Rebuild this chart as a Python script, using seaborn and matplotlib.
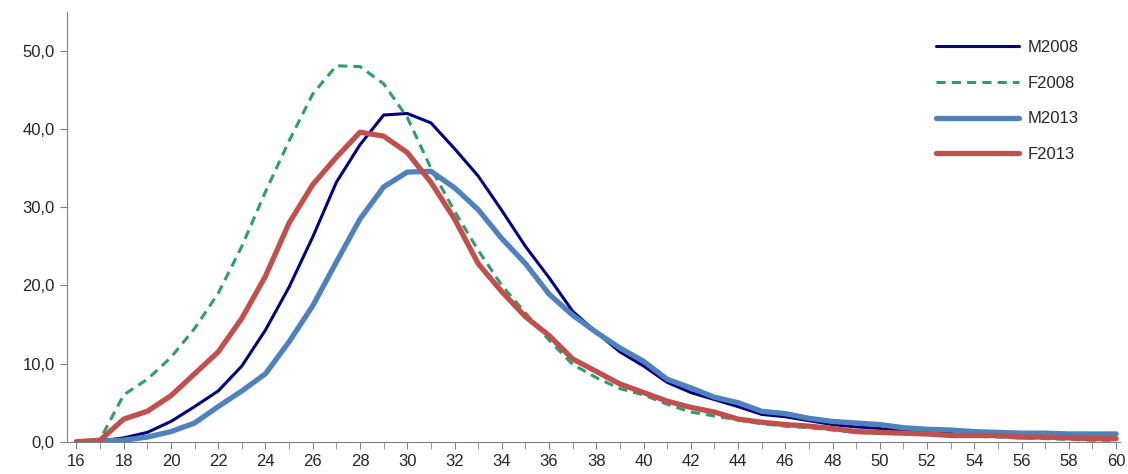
import matplotlib
matplotlib.use("Agg")
import matplotlib.pyplot as plt
import numpy as np
import pandas as pd
import seaborn as sns

ages = list(range(16, 61))
m2008 = [0, 0.1, 0.5, 1.2, 2.6, 4.5, 6.5, 9.7, 14.3, 19.8, 26.2, 33.2, 38, 41.8, 42, 40.8, 37.5, 34, 29.6, 25,
         21, 16.7, 14, 11.5, 9.7, 7.6, 6.3, 5.4, 4.5, 3.5, 3.2, 2.7, 2.2, 1.9, 1.7, 1.4, 1.2, 1.1, 1.0, 0.9,
         0.8, 0.7, 0.6, 0.5, 0.4]
f2008 = [0, 0.3, 6, 8, 10.8, 14.5, 19, 25, 32, 38.5, 44.5, 48.1, 48, 45.8, 41.5, 35, 29.5, 24.5, 20, 16.5,
         13, 9.9, 8.2, 6.8, 6, 4.8, 3.8, 3.3, 2.8, 2.3, 2.0, 1.8, 1.5, 1.2, 1.1, 1.0, 0.9, 0.8, 0.7, 0.6,
         0.5, 0.4, 0.3, 0.2, 0.2]
m2013 = [0, 0.1, 0.2, 0.6, 1.3, 2.4, 4.5, 6.5, 8.7, 12.8, 17.4, 23, 28.5, 32.6, 34.5, 34.6, 32.5, 29.7, 26, 22.8,
         18.9, 16.2, 14, 12, 10.3, 8, 6.9, 5.7, 5, 3.9, 3.6, 3, 2.6, 2.4, 2.2, 1.8, 1.6, 1.5, 1.3, 1.2,
         1.1, 1.1, 1.0, 1.0, 1.0]
f2013 = [0, 0.2, 2.9, 3.9, 5.9, 8.7, 11.5, 15.8, 21.2, 28, 32.9, 36.4, 39.6, 39.1, 37, 33.2, 28.5, 22.8, 19.2, 16,
         13.6, 10.6, 9, 7.4, 6.3, 5.2, 4.4, 3.8, 2.9, 2.5, 2.2, 2.0, 1.7, 1.3, 1.2, 1.1, 1.0, 0.8, 0.8, 0.8,
         0.6, 0.6, 0.5, 0.4, 0.4]

df = pd.DataFrame({"age": ages, "M2008": m2008, "F2008": f2008, "M2013": m2013, "F2013": f2013})

sns.set_style("white")
plt.rcParams['font.family'] = ['Liberation Sans', 'DejaVu Sans']

fig, ax = plt.subplots(figsize=(11.28, 4.74), dpi=100)
fig.subplots_adjust(left=0.059, right=0.993, top=0.975, bottom=0.068)

styles = {
    "M2008": dict(color="#000080", lw=2.2, ls="-"),
    "F2008": dict(color="#2E9E6B", lw=2.2, ls=(0, (3, 2))),
    "M2013": dict(color="#4F81BD", lw=3.8, ls="-"),
    "F2013": dict(color="#C0504D", lw=3.8, ls="-"),
}
for name, st in styles.items():
    sns.lineplot(data=df, x="age", y=name, ax=ax, label=name, color=st["color"],
                 linewidth=st["lw"], linestyle=st["ls"])

ax.set_xlim(15.58, 60.17)
ax.set_ylim(0, 55)
ax.set_xticks(range(16, 61, 2))
ax.set_xticks(range(16, 61), minor=True)
ax.set_yticks(range(0, 51, 10))
ax.set_yticklabels([f"{v},0" for v in range(0, 51, 10)])
ax.tick_params(axis="both", which="both", direction="out", length=5, color="#808080", labelsize=12)
ax.tick_params(axis="both", which="both", bottom=True, left=True)
ax.set_xlabel("")
ax.set_ylabel("")
for s in ["top", "right"]:
    ax.spines[s].set_visible(False)
for s in ["left", "bottom"]:
    ax.spines[s].set_color("#808080")

leg = ax.legend(loc="upper right", bbox_to_anchor=(0.975, 0.97), frameon=False, fontsize=12,
                handlelength=5.0, handletextpad=0.5, labelspacing=1.25)

fig.savefig("out.png", dpi=100)
